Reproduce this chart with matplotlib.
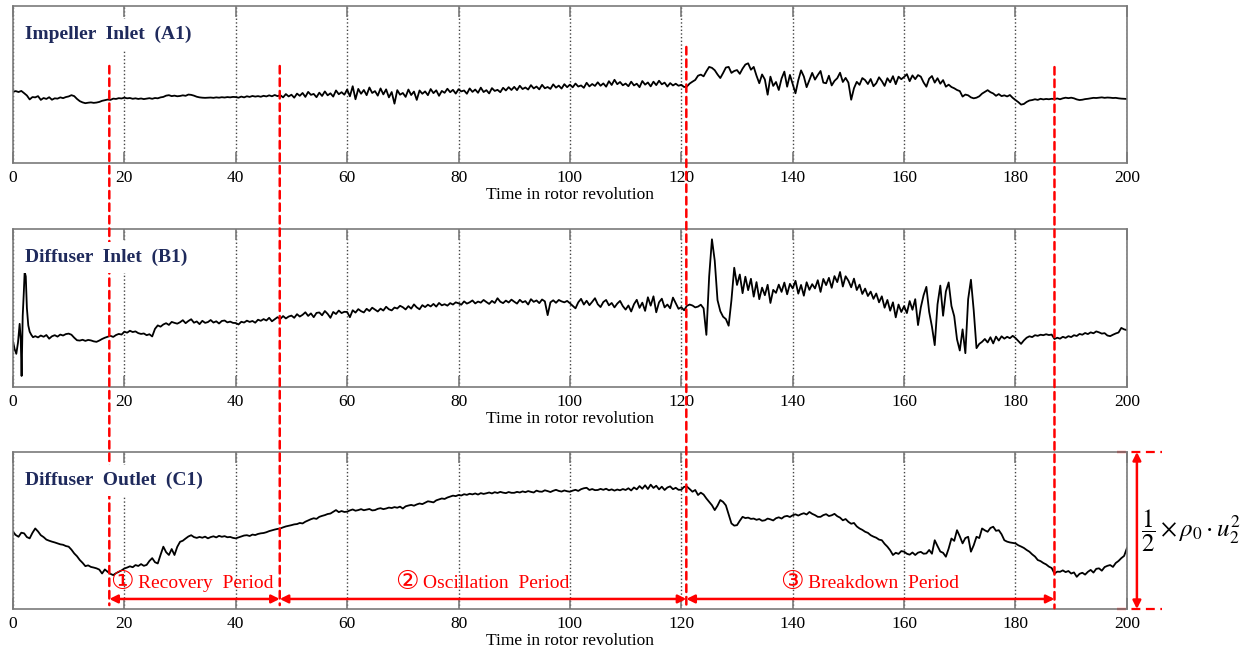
import numpy as np
import matplotlib
matplotlib.use("Agg")
import matplotlib.pyplot as plt
from matplotlib.patches import ConnectionPatch

plt.rcParams['font.family'] = ['Liberation Serif', 'DejaVu Sans']
plt.rcParams['mathtext.fontset'] = 'stix'

# pressure signals in % of 1/2*rho0*u2^2 (= full panel height), every 0.5 rev
t = np.arange(401) * 0.5

imp_inlet_a1 = [
    45.4, 45.8, 45.2, 45.9, 44.5, 43.0, 40.5, 42.0, 41.8, 42.6, 40.2, 41.4, 40.8, 41.9, 40.3, 41.2, 41.0, 41.8, 41.3, 42.0,
    42.4, 43.2, 42.6, 40.8, 39.4, 38.6, 38.1, 38.4, 38.6, 38.3, 38.5, 38.9, 39.6, 40.0, 40.4, 40.2, 41.0, 40.8, 41.3, 41.1,
    41.6, 41.2, 41.4, 40.9, 41.2, 40.8, 41.1, 40.7, 41.0, 41.3, 40.9, 41.4, 41.2, 41.8, 42.1, 42.9, 43.2, 42.6, 42.9, 42.5,
    42.7, 43.1, 42.8, 43.6, 43.4, 42.9, 42.2, 41.8, 41.6, 41.5, 41.6, 41.7, 41.5, 41.8, 41.6, 41.9, 41.7, 42.0, 41.8, 42.1,
    42.0, 41.6, 42.3, 41.8, 42.5, 42.1, 42.7, 42.3, 42.6, 42.2, 42.8, 42.4, 43.1, 42.5, 43.3, 42.6, 43.2, 41.8, 43.9, 42.4,
    43.5, 41.6, 44.2, 42.8, 44.6, 42.1, 45.3, 43.4, 44.0, 41.9, 44.8, 42.7, 45.6, 43.1, 44.4, 42.3, 46.2, 43.8, 45.1, 43.5,
    46.8, 42.5, 48.9, 40.6, 47.2, 44.1, 46.5, 43.2, 48.1, 44.6, 45.8, 42.9, 47.5, 43.7, 46.9, 41.8, 45.2, 37.8, 46.4, 43.5,
    44.6, 42.1, 46.8, 43.3, 45.5, 40.2, 46.2, 44.1, 45.6, 43.2, 47.1, 44.5, 46.3, 42.8, 45.9, 44.7, 47.3, 45.1, 46.6, 44.2,
    47.0, 45.6, 46.2, 44.1, 47.5, 45.3, 46.8, 44.7, 48.0, 45.2, 46.4, 44.3, 47.7, 45.9, 46.6, 45.1, 47.9, 46.2, 48.3, 46.5,
    48.5, 46.4, 49.2, 47.1, 48.1, 46.8, 49.6, 47.5, 48.7, 46.9, 49.8, 47.6, 48.4, 47.2, 50.1, 48.0, 49.3, 47.4, 50.2, 48.3,
    49.9, 48.2, 50.6, 48.7, 49.4, 47.9, 51.1, 48.8, 50.3, 49.1, 51.4, 49.2, 50.7, 48.6, 52.1, 49.7, 53.0, 50.2, 51.6, 49.5,
    50.6, 48.9, 51.8, 49.4, 50.5, 48.3, 52.2, 49.9, 51.3, 48.8, 51.8, 49.6, 52.4, 50.1, 51.2, 48.7, 50.9, 49.4, 50.5, 49.2,
    49.8, 48.4, 48.7, 50.6, 51.8, 52.9, 55.6, 56.3, 55.2, 58.4, 61.2, 60.6, 59.1, 56.4, 54.1, 57.3, 60.8, 61.2, 57.4, 58.6,
    59.2, 56.8, 60.1, 62.7, 63.5, 59.4, 61.2, 55.6, 50.8, 56.4, 53.2, 43.5, 55.0, 49.1, 51.6, 46.5, 53.8, 58.2, 48.6, 56.1,
    50.2, 44.4, 52.7, 59.0, 55.1, 48.3, 52.8, 57.4, 53.1, 56.0, 58.6, 51.2, 50.8, 55.6, 49.4, 52.3, 54.0, 57.5, 51.6, 54.2,
    51.2, 40.3, 47.6, 51.7, 49.8, 54.1, 52.8, 50.3, 53.5, 48.9, 50.8, 54.6, 52.2, 49.1, 54.0, 51.4, 55.3, 50.2, 55.0, 53.4,
    54.8, 56.6, 52.1, 55.8, 53.4, 56.0, 55.0, 51.3, 48.6, 53.7, 55.4, 51.2, 54.0, 50.5, 52.8, 48.6, 49.9, 48.4, 47.6, 46.5,
    45.8, 42.3, 43.6, 43.1, 41.8, 41.2, 41.6, 42.5, 44.2, 45.3, 46.4, 45.1, 44.3, 42.8, 43.9, 42.6, 43.1, 42.4, 43.3, 41.5,
    40.1, 38.8, 37.2, 37.6, 38.9, 39.8, 40.1, 40.6, 40.2, 40.9, 40.5, 40.8, 40.6, 40.9, 40.7, 41.1, 40.6, 41.2, 41.6, 41.3,
    41.6, 41.2, 40.5, 40.1, 40.3, 40.7, 40.9, 41.2, 41.5, 41.4, 41.6, 41.8, 41.5, 41.7, 41.6, 41.4, 41.5, 41.2, 41.0, 40.9,
    40.8,
]

# start-up transient of B1 (finer time steps)
dif_inlet_b1_start_t = [0, 0.3, 0.6, 0.9, 1.2, 1.4, 1.55, 1.75, 1.95, 2.1, 2.3, 2.5, 2.75, 3.0, 3.3, 3.6]
dif_inlet_b1_start = [29, 24, 21, 28, 40, 30, 7, 45, 60, 73, 70, 50, 39, 35, 33, 31.5]
# B1 from t = 4 on, every 0.5 rev
dif_inlet_b1 = [
    32.2, 31.4, 32.6, 31.8, 32.9, 30.6, 32.1, 32.8, 31.9, 33.2, 32.6, 33.5,
    33.8, 33.1, 31.2, 29.6, 29.4, 29.9, 29.2, 29.8, 29.5, 28.9, 28.6, 29.4, 30.4, 31.2, 31.8, 32.4, 31.7, 32.9, 33.6, 33.2,
    35.0, 34.4, 35.6, 34.8, 35.2, 34.1, 33.6, 33.9, 32.8, 33.4, 32.0, 36.8, 39.0, 38.2, 39.6, 40.4, 39.3, 41.2, 40.6, 40.1,
    41.0, 42.3, 40.4, 41.8, 42.9, 40.7, 41.5, 39.8, 41.9, 40.6, 41.1, 42.4, 40.8, 41.6, 40.2, 41.8, 42.1, 40.9, 41.4, 40.6,
    40.5, 39.6, 41.3, 40.8, 42.0, 41.2, 41.8, 40.7, 42.6, 41.9, 43.0, 42.1, 43.8, 41.6, 42.9, 44.2, 43.1, 44.9, 43.4, 44.6,
    45.2, 43.8, 46.1, 44.6, 45.7, 47.3, 45.0, 46.6, 44.2, 46.9, 47.2, 45.4, 48.1, 46.3, 43.8, 47.5, 46.2, 48.4, 46.8, 47.6,
    47.5, 44.2, 48.6, 47.1, 49.3, 48.0, 47.2, 49.5, 48.1, 50.2, 49.0, 47.8, 49.6, 48.4, 50.8, 49.2, 48.5, 50.3, 49.7, 51.4,
    50.5, 49.1, 51.2, 49.6, 52.3, 50.4, 49.2, 51.8, 50.6, 52.1, 51.0, 52.6, 50.9, 53.2, 51.7, 52.4, 51.5, 53.1, 52.2, 53.6,
    53.0, 52.1, 54.2, 52.8, 53.6, 54.8, 52.9, 54.1, 53.4, 55.1, 53.8, 52.6, 54.5, 53.2, 56.2, 54.0, 53.1, 54.7, 53.5, 55.3,
    54.0, 52.8, 55.2, 53.6, 54.4, 52.2, 55.6, 53.9, 54.8, 53.1, 55.4, 54.2, 45.5, 53.6, 54.9, 53.3, 55.1, 54.2, 53.6, 54.5,
    53.0, 51.4, 49.8, 53.6, 55.8, 52.2, 54.6, 51.8, 53.9, 56.2, 52.4, 50.6, 53.8, 55.1, 51.7, 53.2, 50.4, 52.8, 54.5, 51.2,
    49.0, 51.6, 47.8, 52.4, 55.2, 50.1, 53.4, 48.2, 56.8, 51.5, 57.4, 47.3, 53.6, 55.9, 50.4, 52.2, 49.8, 56.6, 53.1, 49.5,
    50.5, 48.6, 51.4, 52.2, 51.6, 50.4, 50.9, 52.1, 49.8, 33.0, 70.0, 93.5, 80.0, 55.0, 48.0, 44.5, 43.0, 38.8, 55.0, 75.5,
    64.6, 71.2, 59.4, 69.8, 61.3, 68.5, 57.2, 66.4, 55.6, 62.9, 58.1, 64.7, 53.2, 61.5, 59.6, 64.8, 60.2, 66.1, 58.7, 65.3,
    62.4, 67.2, 59.1, 64.6, 57.8, 66.3, 61.5, 65.1, 62.4, 67.6, 60.2, 68.4, 64.5, 69.1, 62.8, 70.2, 66.4, 72.8, 63.6, 70.1,
    67.3, 63.1, 68.6, 61.4, 64.8, 58.9, 62.3, 57.6, 60.4, 55.8, 59.2, 53.6, 57.4, 50.2, 55.1, 48.3, 53.6, 44.1, 52.2, 47.5,
    51.2, 46.8, 54.4, 48.9, 55.6, 39.2, 50.4, 58.1, 63.4, 47.6, 38.2, 26.5, 52.3, 64.2, 45.1, 60.5, 66.2, 51.3, 44.8, 30.2,
    23.1, 36.5, 21.4, 55.6, 67.9, 48.5, 24.6, 27.3, 28.6, 30.4, 28.2, 31.5, 27.6, 31.9, 29.4, 32.1, 30.6, 31.8, 30.9, 32.4,
    31.0, 29.2, 27.3, 29.5, 31.2, 32.1, 31.6, 32.8, 32.4, 33.1, 32.8, 33.4, 32.9, 33.2, 30.4, 31.2, 30.6, 31.8, 31.1, 32.2,
    31.6, 32.8, 32.3, 33.6, 33.1, 34.2, 33.5, 34.6, 34.0, 35.2, 34.6, 33.8, 34.1, 32.6, 32.2, 33.1, 33.9, 34.5, 37.4, 36.5,
    36.0,
]

dif_outlet_c1 = [
    49.2, 47.1, 46.0, 48.6, 48.2, 45.8, 45.0, 48.5, 51.3, 49.4, 47.0, 45.8, 44.2, 43.5, 42.9, 42.4, 41.8, 41.2, 40.9, 40.1,
    39.7, 37.8, 35.4, 33.6, 31.2, 29.4, 27.3, 27.8, 26.8, 26.4, 25.9, 25.1, 22.6, 25.2, 23.7, 22.4, 21.6, 22.8, 23.7, 24.6,
    25.8, 26.4, 27.2, 26.6, 28.0, 27.4, 28.6, 27.5, 28.1, 30.6, 32.4, 29.8, 29.0, 34.5, 39.7, 36.2, 34.4, 38.2, 34.4, 39.6,
    42.8, 43.5, 44.9, 46.2, 47.0, 45.8, 45.3, 45.9, 45.4, 46.1, 45.0, 45.8, 46.3, 45.6, 46.6, 46.0, 46.4, 45.7, 45.9, 45.3,
    45.0, 45.6, 46.2, 46.8, 47.0, 46.5, 47.4, 47.1, 47.8, 48.2, 48.4, 48.9, 49.6, 50.1, 50.6, 51.0, 51.3, 52.0, 52.6, 53.0,
    53.4, 53.9, 54.1, 54.8, 54.5, 55.6, 56.4, 57.2, 57.8, 57.4, 58.7, 59.3, 59.8, 60.5, 60.8, 61.9, 63.0, 61.7, 62.4, 61.8,
    62.0, 62.8, 63.4, 62.6, 63.0, 63.6, 62.9, 63.3, 63.7, 62.8, 63.0, 63.8, 64.2, 63.6, 64.0, 64.6, 64.3, 64.9, 64.5, 65.2,
    64.0, 65.4, 65.9, 66.3, 65.8, 66.6, 67.2, 66.8, 67.7, 68.6, 68.3, 67.9, 69.2, 69.8, 70.4, 70.1, 71.0, 71.6, 72.2, 71.9,
    72.6, 72.3, 73.1, 72.7, 73.4, 73.0, 73.6, 72.9, 73.8, 73.3, 73.7, 74.2, 73.6, 74.4, 73.9, 74.6, 74.1, 73.8, 74.5, 74.0,
    74.0, 74.6, 74.2, 74.9, 74.4, 75.1, 74.6, 74.2, 75.4, 74.8, 74.7, 75.6, 75.1, 74.5, 75.3, 75.9, 75.2, 74.8, 75.5, 75.0,
    74.7, 75.4, 75.9, 75.2, 76.3, 76.9, 77.2, 75.8, 76.4, 75.7, 75.8, 76.5, 75.9, 76.6, 75.6, 76.2, 75.4, 76.1, 75.6, 76.4,
    75.8, 76.9, 75.5, 77.4, 76.2, 78.3, 76.6, 78.8, 76.4, 79.2, 77.1, 78.5, 76.2, 77.9, 75.8, 77.4, 78.1, 76.3, 77.2, 75.9,
    76.0, 77.8, 78.0, 76.4, 74.7, 75.8, 72.6, 74.1, 72.9, 70.4, 68.3, 66.1, 63.0, 65.8, 69.4, 68.2, 66.0, 60.2, 54.5, 53.1,
    53.4, 56.2, 58.7, 57.9, 58.2, 57.4, 57.6, 56.8, 57.3, 56.2, 56.5, 57.6, 57.1, 56.4, 57.8, 58.4, 57.6, 58.9, 59.3, 58.6,
    59.7, 60.3, 59.5, 60.4, 61.0, 60.2, 61.8, 60.6, 59.8, 58.7, 58.7, 59.8, 60.4, 59.2, 59.7, 60.6, 59.1, 58.2, 56.5, 57.3,
    55.5, 54.3, 54.8, 52.6, 51.3, 50.4, 49.2, 48.5, 47.0, 46.1, 45.4, 44.2, 43.8, 41.5, 39.7, 37.4, 34.4, 35.8, 35.1, 36.9,
    36.5, 35.2, 34.6, 36.0, 34.4, 35.9, 36.4, 35.2, 35.4, 37.6, 35.2, 43.8, 40.1, 36.6, 35.8, 33.3, 38.5, 44.9, 43.4, 50.2,
    46.3, 41.8, 45.2, 46.0, 36.5, 40.6, 46.0, 45.2, 51.3, 50.1, 49.2, 51.6, 52.4, 49.8, 50.2, 47.6, 43.8, 42.9, 42.4, 42.1,
    41.8, 40.6, 39.8, 38.9, 37.6, 36.5, 34.8, 33.4, 31.2, 30.5, 29.3, 28.4, 27.0, 26.1, 22.6, 23.8, 23.7, 24.6, 23.5, 24.2,
    22.6, 23.3, 20.5, 22.4, 23.1, 21.9, 23.7, 24.9, 23.2, 25.6, 25.9, 24.4, 26.7, 27.5, 28.0, 26.8, 29.3, 30.6, 32.4, 33.8,
    38.7,
]

titles = ["Impeller  Inlet  (A1)", "Diffuser  Inlet  (B1)", "Diffuser  Outlet  (C1)"]
period_bounds = [17.3, 47.9, 120.9, 187.0]
period_marks = ["①", "②", "③"]
period_names = ["Recovery  Period", "Oscillation  Period", "Breakdown  Period"]
mark_x = [17.4, 68.6, 137.7]

t_b1 = np.concatenate([dif_inlet_b1_start_t, t[t >= 4]])
v_b1 = np.concatenate([dif_inlet_b1_start, dif_inlet_b1])
series = [(t, imp_inlet_a1), (t_b1, v_b1), (t, dif_outlet_c1)]

fig = plt.figure(figsize=(12.46, 6.51), dpi=100)
boxes = [(0.0104, 0.7496, 0.894, 0.2412),
         (0.0104, 0.4055, 0.894, 0.2427),
         (0.0104, 0.0645, 0.894, 0.2412)]
axes = []
for box, (x, y), title in zip(boxes, series, titles):
    ax = fig.add_axes(box)
    ax.plot(x, y, color='black', lw=1.3)
    ax.set_xlim(0, 200)
    ax.set_ylim(0, 100)
    ax.set_xticks(range(0, 201, 20))
    ax.set_yticks([])
    ax.grid(axis='x', linestyle=':', color='#444444', lw=1.0)
    for s in ax.spines.values():
        s.set_color('#7a7a7a')
        s.set_linewidth(1.2)
    ax.tick_params(axis='x', direction='in', top=True, length=8, width=1.2,
                   color='#7a7a7a', labelsize=12.5, pad=5)
    ax.set_xlabel('Time in rotor revolution', fontsize=12.5, labelpad=1)
    fig.text(0.011, 0.82, title, transform=ax.transAxes, fontsize=14,
             fontweight='bold', color='#1f2a5c', va='center', ha='left', zorder=10,
             bbox=dict(boxstyle='square,pad=0.35', fc='white', ec='none'))
    axes.append(ax)

ax1, ax2, ax3 = axes

# red dashed period boundaries across all panels
tops = [61.8, 61.8, 73.9, 61.1]
ends = [2.5, 2.5, 2.5, 0.5]
for xb, ya, yb in zip(period_bounds, tops, ends):
    con = ConnectionPatch(xyA=(xb, ya), coordsA=ax1.transData,
                          xyB=(xb, yb), coordsB=ax3.transData,
                          color='red', lw=1.8, linestyle=(0, (3, 2)), zorder=5)
    fig.add_artist(con)

# period arrows and labels
for a, b in zip(period_bounds[:-1], period_bounds[1:]):
    ax3.annotate('', xy=(b, 6.4), xytext=(a, 6.4),
                 arrowprops=dict(arrowstyle='<|-|>', color='red', lw=1.8,
                                 shrinkA=0, shrinkB=0, mutation_scale=12))
for mx, mk, nm in zip(mark_x, period_marks, period_names):
    ax3.text(mx, 17.0, mk, color='red', fontsize=19, va='center', ha='left',
             family=['DejaVu Sans'])
    ax3.text(mx + 5.1, 16.5, nm, color='red', fontsize=14, va='center', ha='left')

# scale bar: panel height = 1/2 rho0 u2^2
ax3.annotate('', xy=(201.8, 100), xytext=(201.8, 0), annotation_clip=False,
             arrowprops=dict(arrowstyle='<|-|>', color='red', lw=1.8,
                             shrinkA=0, shrinkB=0, mutation_scale=12))
for yy in (100, 0):
    ax3.plot([198.2, 206.3], [yy, yy], color='red', lw=1.6,
             linestyle=(0, (4, 2.5)), clip_on=False)
ax3.text(202.6, 50, r'$\dfrac{1}{2}\times\rho_0\cdot u_2^2$', fontsize=18,
         va='center', ha='left', clip_on=False)

fig.savefig('out.png', dpi=100, facecolor='white')
